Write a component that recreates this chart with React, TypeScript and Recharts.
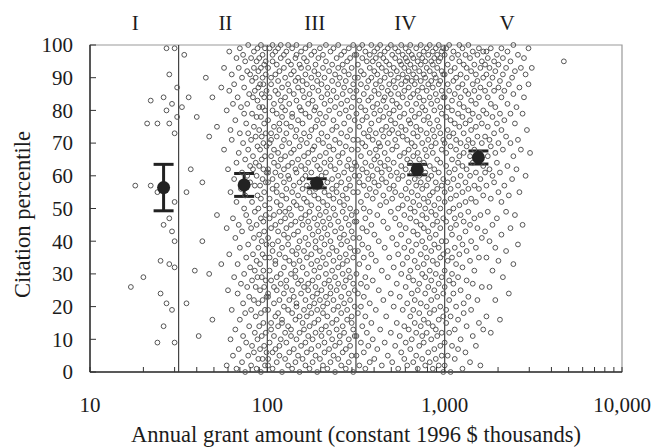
import { ScatterChart, Scatter, XAxis, YAxis, ReferenceLine, ReferenceArea, ReferenceDot, ErrorBar, Label } from 'recharts';

// each column: [annual grant, $ thousands] -> citation percentiles seen along it
const regionI: [number, number[]][] = [
  [17, [26]], [18, [57]], [20, [29]], [21, [76]], [22, [57, 83]], [24, [9, 55, 76]],
  [25, [24, 34]], [26, [14, 45, 84]], [27, [21, 80, 99]], [28, [33, 47, 76, 91]],
  [29, [19, 43, 82]], [30, [9, 32, 40, 52, 73, 99]], [31, [78, 87]],
];

const regionII: [number, number[]][] = [
  [33, [81]], [34, [97]], [35, [21, 55]], [36, [84]], [37, [62]], [39, [31]], [40, [78]], [41, [11]],
  [43, [40, 58]], [45, [90]], [47, [30, 72]], [49, [16, 84]], [52, [48, 75]], [55, [33, 87]], [57, [68, 93]],
  [59, [2, 44, 80]], [60, [25, 62]], [61, [36, 86, 98]], [62, [10, 55, 74]], [63, [19, 71, 91]],
  [64, [5, 47, 82]], [65, [29, 59, 88]], [66, [13, 41, 77]], [67, [1, 52, 64, 96]], [68, [24, 33, 84]],
  [69, [7, 45, 67, 93]], [70, [16, 38, 73, 99]], [71, [27, 56, 81]], [72, [3, 43, 61, 90]],
  [73, [11, 21, 70, 97]], [74, [30, 50, 79, 87]], [75, [0, 18, 54, 65, 95]], [76, [9, 35, 48, 76]],
  [77, [26, 60, 82, 92]], [78, [5, 39, 68, 73, 100]], [79, [14, 23, 46, 85]], [80, [32, 58, 63, 91]],
  [81, [2, 19, 44, 71, 96]], [82, [8, 28, 52, 79, 89]], [83, [36, 62, 66, 84]], [84, [6, 22, 41, 75, 93, 98]],
  [85, [12, 31, 49, 57, 86]], [86, [17, 26, 64, 72, 90]], [87, [1, 34, 45, 60, 78, 95]],
  [88, [10, 29, 54, 69, 83, 99]], [89, [4, 21, 38, 50, 87, 92]], [90, [14, 42, 63, 74, 81, 96]],
  [91, [7, 25, 33, 57, 68, 88]], [92, [0, 18, 47, 53, 78, 93, 100]], [93, [11, 29, 40, 65, 72, 85]],
  [94, [4, 22, 36, 59, 81, 90, 97]], [95, [15, 31, 46, 62, 70, 88]], [96, [8, 26, 43, 55, 76, 84, 94]],
  [97, [2, 19, 35, 51, 66, 80, 99]], [98, [12, 28, 48, 58, 73, 91, 95]], [99, [6, 23, 39, 61, 69, 86]],
];

const regionIII: [number, number[]][] = [
  [101, [2, 4, 19, 23, 24, 41, 58, 61, 62, 77, 93]], [103, [9, 31, 35, 47, 50, 53, 70, 84, 99]],
  [105, [13, 15, 28, 44, 66, 71, 73, 88, 90]], [107, [1, 6, 37, 39, 56, 59, 80, 95, 97, 100]],
  [109, [11, 21, 26, 48, 64, 68, 75, 82]], [111, [7, 17, 33, 34, 45, 61, 86, 91, 98]],
  [113, [3, 25, 29, 52, 55, 57, 72, 79, 94]], [115, [14, 18, 40, 43, 63, 67, 85, 89, 99]],
  [117, [5, 8, 22, 36, 49, 74, 76, 92]], [119, [10, 27, 30, 46, 51, 60, 65, 83, 96, 100]],
  [121, [0, 15, 16, 38, 54, 69, 78, 81, 87]], [124, [20, 24, 32, 42, 58, 62, 71, 93, 97]],
  [126, [4, 12, 35, 47, 49, 66, 80, 84, 90]], [128, [9, 26, 28, 44, 53, 56, 73, 76, 98]],
  [131, [2, 14, 19, 39, 41, 60, 63, 88, 95, 100]], [133, [6, 22, 34, 50, 59, 70, 82, 86]],
  [136, [11, 13, 30, 45, 48, 67, 75, 91, 94]], [138, [1, 18, 25, 37, 55, 64, 78, 79, 99]],
  [141, [7, 23, 33, 42, 52, 57, 68, 85, 92]], [144, [3, 16, 29, 31, 46, 62, 72, 89, 96]],
  [146, [10, 20, 21, 36, 51, 61, 74, 83, 97, 100]], [149, [5, 27, 38, 43, 54, 65, 77, 87, 90]],
  [152, [0, 12, 17, 34, 40, 58, 69, 81, 94]], [155, [8, 24, 28, 47, 50, 63, 71, 80, 93, 98]],
  [158, [4, 15, 32, 45, 56, 59, 76, 86, 89]], [161, [13, 19, 26, 37, 53, 66, 73, 84, 96]],
  [164, [2, 9, 22, 41, 48, 60, 62, 79, 91, 99]], [167, [6, 17, 30, 35, 52, 57, 70, 88, 95]],
  [170, [11, 25, 27, 39, 46, 64, 67, 82, 93]], [173, [1, 14, 20, 44, 49, 55, 72, 78, 85, 100]],
  [177, [7, 18, 33, 36, 51, 61, 74, 90, 97]], [180, [3, 10, 23, 28, 42, 58, 68, 83, 87]],
  [184, [15, 21, 31, 47, 54, 65, 69, 80, 92, 98]], [187, [5, 12, 26, 38, 40, 56, 75, 81, 94]],
  [191, [0, 19, 24, 34, 45, 59, 63, 77, 89]], [194, [8, 16, 29, 43, 50, 53, 71, 86, 91, 96]],
  [198, [4, 22, 32, 37, 48, 62, 66, 79, 99]], [202, [11, 13, 25, 41, 57, 60, 73, 84, 88]],
  [206, [2, 18, 20, 35, 46, 52, 70, 76, 93, 97]], [210, [6, 9, 27, 39, 44, 55, 64, 82, 90]],
  [214, [14, 23, 30, 33, 49, 61, 67, 78, 95, 100]], [218, [1, 17, 21, 42, 51, 58, 72, 85, 87]],
  [223, [7, 12, 28, 36, 47, 54, 69, 80, 92]], [227, [3, 24, 26, 40, 45, 63, 65, 83, 98]],
  [232, [10, 15, 31, 38, 56, 59, 74, 89, 94]], [236, [5, 19, 22, 34, 50, 53, 68, 77, 86, 99]],
  [241, [0, 8, 29, 43, 48, 62, 71, 81, 91]], [246, [13, 16, 25, 37, 55, 57, 75, 84, 96]],
  [251, [4, 20, 27, 32, 46, 60, 66, 88, 93, 100]], [256, [9, 11, 35, 41, 52, 64, 70, 79, 90]],
  [261, [2, 18, 23, 39, 44, 58, 73, 82, 97]], [266, [6, 14, 30, 33, 49, 54, 67, 85, 94]],
  [271, [12, 21, 26, 42, 51, 61, 76, 87, 92, 98]], [277, [1, 7, 28, 36, 47, 56, 69, 80, 89]],
  [282, [16, 19, 34, 40, 53, 63, 72, 83, 95]], [288, [3, 10, 24, 31, 45, 59, 65, 78, 91, 99]],
  [293, [8, 22, 29, 38, 50, 57, 74, 86, 96]], [299, [5, 15, 17, 43, 48, 62, 68, 81, 93]],
  [305, [0, 13, 27, 35, 41, 55, 71, 84, 88, 100]], [311, [11, 20, 25, 37, 46, 60, 64, 77, 90, 97]],
];

const regionIV: [number, number[]][] = [
  [318, [5, 11, 30, 46, 49, 63, 79, 86, 97]], [324, [18, 24, 37, 55, 68, 71, 90, 94]],
  [330, [2, 33, 41, 58, 60, 75, 83, 99]], [337, [9, 20, 27, 52, 66, 81, 88, 92]],
  [343, [14, 39, 44, 62, 70, 77, 96, 100]], [350, [6, 23, 35, 50, 57, 73, 85, 91]],
  [357, [1, 17, 29, 47, 64, 69, 80, 98]], [364, [12, 26, 43, 54, 61, 78, 87, 95]],
  [371, [8, 32, 38, 59, 72, 83, 89]], [378, [3, 21, 49, 56, 67, 74, 93, 97]],
  [386, [15, 36, 45, 63, 76, 84, 90, 100]], [393, [10, 28, 53, 60, 71, 81, 95]],
  [401, [4, 42, 58, 65, 79, 86, 92, 98]], [409, [19, 34, 55, 68, 73, 88, 96]],
  [417, [7, 48, 62, 66, 82, 91, 99]], [425, [25, 40, 57, 70, 77, 85, 94]],
  [433, [13, 51, 64, 69, 80, 89, 97, 100]], [442, [2, 31, 59, 61, 74, 87, 93]],
  [451, [22, 46, 54, 72, 78, 83, 96]], [459, [9, 38, 63, 67, 84, 90, 98]],
  [468, [17, 52, 58, 75, 81, 92, 95]], [478, [5, 29, 44, 65, 70, 86, 99]],
  [487, [35, 56, 62, 73, 79, 88, 94]], [497, [12, 24, 49, 60, 77, 85, 91, 100]],
  [506, [3, 41, 53, 68, 74, 83, 97]], [516, [20, 32, 57, 64, 80, 89, 93]],
  [526, [8, 47, 55, 71, 76, 87, 96, 99]], [537, [15, 27, 39, 61, 69, 82, 92]],
  [547, [1, 36, 50, 59, 73, 85, 90, 98]], [558, [11, 23, 45, 66, 78, 81, 95]],
  [569, [6, 30, 42, 54, 63, 75, 88, 94, 100]], [580, [19, 33, 51, 60, 72, 84, 91, 97]],
  [592, [4, 14, 38, 48, 67, 79, 86, 93]], [603, [9, 26, 44, 56, 62, 74, 89, 96, 99]],
  [615, [2, 21, 35, 53, 65, 71, 82, 90, 95]], [627, [13, 29, 40, 58, 68, 77, 87, 92, 98]],
  [640, [7, 17, 31, 47, 50, 64, 76, 84, 94, 100]], [652, [10, 24, 37, 55, 61, 70, 80, 89, 97]],
  [665, [3, 19, 28, 43, 52, 66, 73, 85, 91, 96]], [678, [15, 22, 34, 49, 59, 69, 78, 88, 93]],
  [691, [5, 12, 39, 46, 57, 63, 75, 82, 90, 99]], [705, [1, 25, 32, 42, 54, 67, 72, 86, 95]],
  [719, [8, 18, 27, 51, 60, 65, 79, 84, 92, 97]], [733, [14, 21, 36, 45, 58, 62, 74, 89, 94, 100]],
  [747, [4, 11, 30, 40, 48, 56, 70, 81, 87, 96]], [762, [9, 16, 33, 44, 53, 64, 77, 83, 91, 98]],
  [777, [2, 24, 29, 38, 50, 61, 68, 80, 90, 95]], [792, [12, 20, 35, 47, 57, 66, 73, 86, 93, 99]],
  [808, [6, 15, 26, 43, 52, 59, 71, 78, 88, 97]], [824, [3, 18, 31, 41, 54, 63, 76, 84, 92, 100]],
  [840, [10, 22, 28, 37, 49, 60, 69, 82, 89, 95]], [857, [1, 14, 34, 45, 55, 67, 74, 87, 94, 98]],
  [874, [7, 19, 25, 39, 51, 62, 72, 80, 91, 96]], [891, [4, 13, 30, 42, 48, 58, 70, 85, 90, 99]],
  [908, [11, 23, 33, 46, 56, 65, 77, 83, 93, 97]], [926, [2, 16, 27, 38, 53, 61, 75, 88, 95, 100]],
  [945, [8, 20, 35, 44, 50, 64, 73, 81, 89, 96]], [963, [5, 12, 29, 40, 57, 68, 79, 86, 92, 98]],
  [982, [0, 17, 24, 36, 47, 59, 71, 84, 91, 99]],
];

const regionV: [number, number[]][] = [
  [1000, [2, 9, 26, 31, 52, 55, 70, 84, 91, 97]], [1020, [15, 19, 40, 46, 63, 67, 78, 99]],
  [1040, [5, 34, 37, 58, 74, 81, 88, 94]], [1060, [12, 22, 28, 49, 61, 72, 86, 100]],
  [1080, [0, 17, 44, 53, 56, 69, 77, 92]], [1100, [8, 30, 35, 42, 65, 80, 83, 96]],
  [1120, [24, 27, 50, 59, 73, 89, 98]], [1140, [4, 13, 38, 47, 62, 76, 85, 93]],
  [1160, [20, 33, 45, 54, 68, 71, 90]], [1190, [7, 16, 29, 57, 64, 79, 87, 97]],
  [1210, [36, 41, 51, 66, 75, 82, 95, 100]], [1230, [10, 25, 48, 60, 70, 84, 91]],
  [1260, [1, 32, 39, 55, 63, 78, 88, 99]], [1280, [18, 21, 46, 67, 73, 81, 94]],
  [1310, [6, 43, 52, 58, 76, 86, 97]], [1330, [14, 28, 37, 62, 69, 90, 93]],
  [1360, [23, 49, 56, 71, 80, 85, 100]], [1390, [3, 34, 45, 60, 66, 77, 96]],
  [1410, [19, 40, 53, 74, 83, 92]], [1440, [11, 27, 64, 70, 79, 88, 98]],
  [1470, [31, 47, 57, 68, 86, 94]], [1500, [8, 38, 52, 61, 75, 82, 91]],
  [1530, [22, 44, 65, 72, 89, 97]], [1560, [15, 35, 56, 78, 84, 99]],
  [1590, [2, 48, 59, 67, 87, 93]], [1620, [26, 41, 70, 76, 95]],
  [1650, [13, 54, 63, 80, 90, 98]], [1690, [43, 61, 72, 86, 94]],
  [1720, [17, 35, 57, 79, 91, 98]], [1750, [49, 66, 75, 84, 96]],
  [1790, [26, 40, 62, 71, 88, 93]], [1820, [12, 53, 69, 82, 99]],
  [1860, [31, 45, 60, 78, 90]], [1900, [58, 73, 86, 95]],
  [1930, [22, 38, 67, 81, 92]], [1970, [47, 64, 76, 97]],
  [2010, [34, 55, 70, 87, 94]], [2050, [16, 61, 79, 89]],
  [2090, [42, 52, 74, 84, 99]], [2130, [29, 68, 91, 96]],
  [2170, [57, 77, 86]], [2220, [37, 49, 72, 93]], [2260, [63, 82, 98]], [2300, [24, 54, 88]],
  [2350, [44, 70, 79, 95]], [2400, [59, 90]], [2440, [33, 66, 85, 100]], [2490, [48, 76, 92]],
  [2540, [62, 81]], [2590, [39, 71, 97]], [2640, [55, 87]], [2690, [68, 93]], [2750, [45, 79]],
  [2800, [84, 96]], [2860, [60, 91]], [2910, [74]], [2970, [88, 99]], [3030, [67]], [3100, [93]],
  [4700, [95]],
];

const boundaries = [31.6, 100, 316, 1000];
const regionNames = ['I', 'II', 'III', 'IV', 'V'];
const regionNameAt = [18, 58, 185, 600, 2250];

const meanAmount = [26, 74, 190, 700, 1550];
const meanPct = [56.4, 57.2, 57.7, 61.9, 65.6];
const meanErr = [7.1, 3.5, 1.4, 1.6, 2.0];

const majorTicks = [10, 100, 1000, 10000];
const minorTicks = [20, 30, 40, 50, 60, 70, 80, 90, 200, 300, 400, 500, 600, 700, 800, 900,
  2000, 3000, 4000, 5000, 6000, 7000, 8000, 9000];
const yTicks = [0, 10, 20, 30, 40, 50, 60, 70, 80, 90, 100];

const FONT = "'Liberation Serif', 'Times New Roman', serif";
const INK = '#1c1c1c';

const toPoints = (cols: [number, number[]][]) =>
  cols.flatMap(([x, ys]) => ys.map((y) => ({ x, y })));

const grants = [regionI, regionII, regionIII, regionIV, regionV].flatMap(toPoints);
const means = meanAmount.map((x, i) => ({ x, y: meanPct[i], err: [meanErr[i], meanErr[i]] }));
const xTicks = [...majorTicks, ...minorTicks].sort((a, b) => a - b);

const XTick = ({ x, y, payload }: any) => {
  const major = majorTicks.includes(payload.value);
  return (
    <g>
      <line x1={x} x2={x} y1={y} y2={y - 5} stroke="#333" strokeWidth={1} />
      {major && (
        <text x={x} y={y + 40} textAnchor="middle" style={{ fontFamily: FONT, fontSize: 21 }} fill={INK}>
          {payload.value.toLocaleString('en-US')}
        </text>
      )}
    </g>
  );
};

const YTick = ({ x, y, payload }: any) => (
  <g>
    <line x1={x} x2={x + 6} y1={y} y2={y} stroke="#333" strokeWidth={1} />
    <text x={x - 17} y={y} dy="0.35em" textAnchor="end" style={{ fontFamily: FONT, fontSize: 21 }} fill={INK}>
      {payload.value}
    </text>
  </g>
);

const Dot = ({ cx, cy }: any) => (
  <circle cx={cx} cy={cy} r={2.4} fill="none" stroke="#555" strokeWidth={1} />
);

const MeanDot = ({ cx, cy }: any) => <circle cx={cx} cy={cy} r={6.5} fill="#222" />;

export default function App() {
  return (
    <>
      <style>{'body { margin: 0; overflow: hidden; }'}</style>
      <ScatterChart width={651} height={447} margin={{ top: 45, right: 29, bottom: 0, left: 0 }}>
        <ReferenceArea x1={10} x2={10000} y1={0} y2={100} fill="none" stroke="#999" strokeWidth={1.2} />
        <XAxis
          type="number"
          dataKey="x"
          scale="log"
          domain={[10, 10000]}
          ticks={xTicks}
          interval={0}
          allowDataOverflow
          height={75}
          tickSize={0}
          tickMargin={0}
          tick={<XTick />}
          axisLine={{ stroke: '#333', strokeWidth: 1.5 }}
        >
          <Label
            content={({ viewBox }: any) => (
              <text
                x={viewBox.x + viewBox.width / 2}
                y={viewBox.y + 70}
                textAnchor="middle"
                style={{ fontFamily: FONT, fontSize: 22.5 }}
                fill={INK}
              >
                Annual grant amount (constant 1996 $ thousands)
              </text>
            )}
          />
        </XAxis>
        <YAxis
          type="number"
          dataKey="y"
          domain={[0, 100]}
          ticks={yTicks}
          interval={0}
          width={90}
          tickSize={0}
          tickMargin={0}
          tick={<YTick />}
          axisLine={{ stroke: '#333', strokeWidth: 1.5 }}
        >
          <Label
            content={({ viewBox }: any) => {
              const cx = viewBox.x + 22;
              const cy = viewBox.y + viewBox.height / 2 + 6;
              return (
                <text
                  x={cx}
                  y={cy}
                  transform={`rotate(-90 ${cx} ${cy})`}
                  textAnchor="middle"
                  dominantBaseline="central"
                  style={{ fontFamily: FONT, fontSize: 22.5 }}
                  fill={INK}
                >
                  Citation percentile
                </text>
              );
            }}
          />
        </YAxis>
        <Scatter data={grants} shape={<Dot />} isAnimationActive={false} />
        {boundaries.map((b) => (
          <ReferenceLine key={b} x={b} stroke="#444" strokeWidth={1.2} />
        ))}
        {regionNames.map((name, i) => (
          <ReferenceDot
            key={name}
            x={regionNameAt[i]}
            y={100}
            r={0}
            stroke="none"
            label={{ value: name, position: 'top', offset: 15, style: { fontFamily: FONT, fontSize: 21 }, fill: INK }}
          />
        ))}
        <Scatter data={means} shape={<MeanDot />} isAnimationActive={false}>
          <ErrorBar dataKey="err" direction="y" width={10} strokeWidth={3} stroke="#222" />
        </Scatter>
      </ScatterChart>
    </>
  );
}
